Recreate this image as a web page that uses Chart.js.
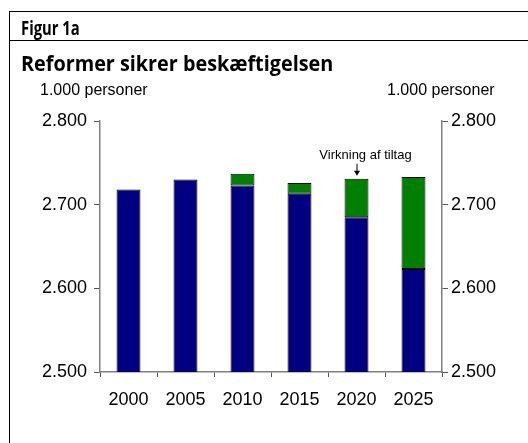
<!DOCTYPE html>
<html>
<head>
<meta charset="utf-8">
<script src="https://cdn.jsdelivr.net/npm/chart.js@4"></script>
<style>
  html, body { margin: 0; padding: 0; background: #fff; }
  #wrap { position: relative; width: 528px; height: 443px; overflow: hidden; }
  #box { position: absolute; left: 9px; top: 11px; width: 530px; height: 450px;
         border-left: 1.5px solid #000; border-top: 1.5px solid #000; }
  #sep { position: absolute; left: 9px; top: 40px; width: 530px; border-top: 1.5px solid #000; }
  .ttl { position: absolute; left: 21px; font-family: "Open Sans", sans-serif; font-weight: 700; color: #000;
         white-space: nowrap; transform-origin: left top; line-height: 1; }
  #fig { top: 19px; font-size: 19px; transform: scaleX(0.78); }
  #head { top: 51px; font-size: 22px; transform: scaleX(0.9); }
  .unit { position: absolute; top: 81px; font-family: "Liberation Sans", Arial, sans-serif; font-size: 16px; color: #000; white-space: nowrap; }
  canvas { position: absolute; left: 0; top: 0; }
</style>
</head>
<body>
<div id="wrap">
  <canvas id="chart" width="528" height="443"></canvas>
  <div id="box"></div>
  <div id="sep"></div>
  <div class="ttl" id="fig">Figur 1a</div>
  <div class="ttl" id="head">Reformer sikrer beskæftigelsen</div>
  <div class="unit" style="left:40px">1.000 personer</div>
  <div class="unit" style="left:387px">1.000 personer</div>
</div>
<script>
const years = ['2000', '2005', '2010', '2015', '2020', '2025'];
const baseline = [2718, 2730, 2723, 2713, 2685, 2623];
const reformEffect = [0, 0, 14, 13, 46, 110];
const yTicks = [2500, 2600, 2700, 2800];
const note = 'Virkning af tiltag';
const noteYear = '2020';

const fmt = (v) => String(v).replace(/\B(?=(\d{3})+(?!\d))/g, '.');
const axisColor = '#808080';
const tickFont = { family: '"Liberation Sans", Arial, sans-serif', size: 18 };

const notePlugin = {
    id: 'note',
    afterDatasetsDraw(chart) {
        const { ctx, scales } = chart;
        const i = years.indexOf(noteYear);
        const x = scales.x.getPixelForValue(i);
        const top = scales.y.getPixelForValue(baseline[i] + reformEffect[i]);
        ctx.save();
        ctx.fillStyle = '#000';
        ctx.strokeStyle = '#000';
        ctx.font = '13px "Liberation Sans", Arial, sans-serif';
        ctx.textAlign = 'center';
        ctx.textBaseline = 'middle';
        ctx.fillText(note, x + 9, top - 23);
        ctx.lineWidth = 1;
        ctx.beginPath();
        ctx.moveTo(x + 0.5, top - 15);
        ctx.lineTo(x + 0.5, top - 6);
        ctx.stroke();
        ctx.beginPath();
        ctx.moveTo(x - 2.5, top - 8);
        ctx.lineTo(x + 3.5, top - 8);
        ctx.lineTo(x + 0.5, top - 3);
        ctx.closePath();
        ctx.fill();
        ctx.restore();
    }
};

const yAxis = (position, width, padding) => ({
    type: 'linear',
    position,
    min: 2500,
    max: 2800,
    afterBuildTicks: (s) => { s.ticks = yTicks.map((v) => ({ value: v })); },
    afterFit: (s) => { s.width = width; },
    border: { color: axisColor, width: 1.5 },
    grid: { drawOnChartArea: false, color: '#555', tickLength: 6 },
    ticks: { color: '#000', font: tickFont, padding, callback: (v) => fmt(v) },
});

new Chart(document.getElementById('chart'), {
    type: 'bar',
    data: {
        labels: years,
        datasets: [
            {
                label: 'Grundforløb',
                data: baseline,
                backgroundColor: '#000080',
                borderColor: '#000',
                borderWidth: 1,
                borderSkipped: false,
                barPercentage: 0.84,
                categoryPercentage: 0.5,
            },
            {
                label: 'Virkning af tiltag',
                data: reformEffect,
                backgroundColor: '#008000',
                borderColor: '#000',
                borderWidth: 1,
                borderSkipped: false,
                barPercentage: 0.84,
                categoryPercentage: 0.5,
            },
        ],
    },
    options: {
        responsive: false,
        animation: false,
        events: [],
        layout: { padding: { top: 121, left: 0, right: 0, bottom: 0 } },
        plugins: { legend: { display: false }, tooltip: { enabled: false } },
        scales: {
            x: {
                stacked: true,
                afterFit: (s) => { s.height = 71; },
                border: { color: axisColor, width: 1.5 },
                grid: { drawOnChartArea: false, offset: true, color: '#555', tickLength: 5 },
                ticks: { color: '#000', font: tickFont, padding: 12 },
            },
            y: { ...yAxis('left', 100, 7), stacked: true },
            y2: yAxis('right', 86, 3),
        },
    },
    plugins: [notePlugin],
});
</script>
</body>
</html>
